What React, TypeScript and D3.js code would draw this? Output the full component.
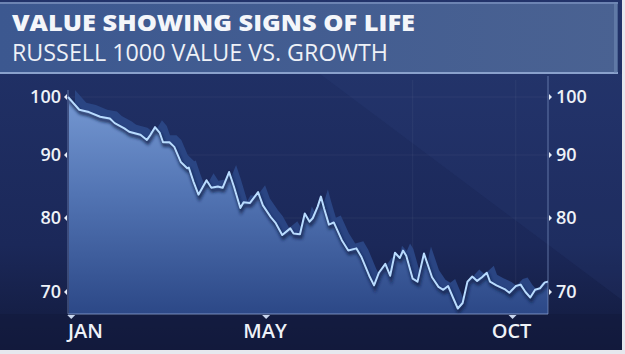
import React, { useEffect, useRef } from 'react';
import * as d3 from 'd3';

// Russell 1000 Value vs. Growth ratio, rebased to 100
const dates = [
  '2019-12-30', '2020-01-06', '2020-01-12', '2020-01-19', '2020-01-25', '2020-01-28',
  '2020-02-03', '2020-02-06', '2020-02-13', '2020-02-17', '2020-02-19', '2020-02-22',
  '2020-02-25', '2020-02-27', '2020-03-02', '2020-03-05', '2020-03-09', '2020-03-13',
  '2020-03-14', '2020-03-17', '2020-03-20', '2020-03-25', '2020-03-28', '2020-04-01',
  '2020-04-04', '2020-04-08', '2020-04-11', '2020-04-15', '2020-04-17', '2020-04-21',
  '2020-04-26', '2020-04-29', '2020-05-04', '2020-05-07', '2020-05-11', '2020-05-16',
  '2020-05-18', '2020-05-22', '2020-05-25', '2020-05-28', '2020-05-30', '2020-06-02',
  '2020-06-04', '2020-06-06', '2020-06-09', '2020-06-12', '2020-06-17', '2020-06-21',
  '2020-06-26', '2020-06-29', '2020-07-04', '2020-07-07', '2020-07-10', '2020-07-14',
  '2020-07-17', '2020-07-20', '2020-07-23', '2020-07-25', '2020-07-27', '2020-07-31',
  '2020-08-03', '2020-08-07', '2020-08-12', '2020-08-16', '2020-08-19', '2020-08-22',
  '2020-08-25', '2020-08-28', '2020-08-31', '2020-09-03', '2020-09-06', '2020-09-09',
  '2020-09-12', '2020-09-15', '2020-09-17', '2020-09-21', '2020-09-26', '2020-09-29',
  '2020-10-03', '2020-10-06', '2020-10-09', '2020-10-12', '2020-10-15', '2020-10-18',
  '2020-10-21', '2020-10-23'
];
const ratio = [
  100, 97.8, 97.4, 96.6, 96.3, 95.5,
  94.6, 94.0, 93.5, 92.6, 93.4, 94.8,
  93.8, 92.2, 92.2, 91.4, 88.9, 87.9,
  88.0, 85.7, 83.7, 86.0, 84.8, 85.0,
  84.8, 87.3, 85.0, 81.6, 82.5, 82.4,
  84.1, 82.0, 80.1, 79.3, 77.7, 78.6,
  77.9, 77.8, 80.7, 79.5, 80.0, 81.8,
  83.4, 81.5, 79.1, 79.4, 77.0, 75.6,
  75.9, 74.8, 72.2, 70.9, 72.6, 73.8,
  72.2, 75.3, 74.6, 75.6, 74.9, 71.8,
  71.4, 75.2, 72.0, 70.7, 70.3, 70.8,
  69.3, 67.9, 68.6, 71.4, 72.1, 71.5,
  72.0, 72.6, 71.4, 70.9, 70.4, 69.9,
  70.8, 71.0, 70.0, 69.3, 70.3, 70.5,
  71.3, 71.4
];
const yTicks = [70, 80, 90, 100];
const monthTicks = ['2020-01-01', '2020-05-01', '2020-10-01'];
const monthLabels = ['JAN', 'MAY', 'OCT'];

const title = 'VALUE SHOWING SIGNS OF LIFE';
const subtitle = 'RUSSELL 1000 VALUE VS. GROWTH';

const App = () => {
  const ref = useRef<SVGSVGElement>(null);

  useEffect(() => {
    const W = 625;
    const H = 354;
    const left = 68;
    const right = 548;
    const bottom = 314;

    const svg = d3.select(ref.current);
    svg.selectAll('*').remove();

    const parse = d3.timeParse('%Y-%m-%d');
    const data = dates.map((d, i) => ({ date: parse(d) as Date, v: ratio[i] }));

    const x = d3
      .scaleTime()
      .domain([parse('2019-12-30') as Date, parse('2020-10-23') as Date])
      .range([left, right]);

    // the studio graphic is tilted, so the spacing widens going down
    const y = d3
      .scaleLinear()
      .domain([67.2, 70, 80, 90, 100])
      .range([bottom, 292, 218, 155, 97]);

    const defs = svg.append('defs');

    const bg = defs.append('linearGradient').attr('id', 'bg').attr('x1', 0).attr('y1', 0).attr('x2', 0).attr('y2', 1);
    bg.append('stop').attr('offset', '0%').attr('stop-color', '#22336a');
    bg.append('stop').attr('offset', '70%').attr('stop-color', '#1b2859');
    bg.append('stop').attr('offset', '100%').attr('stop-color', '#121a3c');

    const banner = defs.append('linearGradient').attr('id', 'banner').attr('x1', 0).attr('y1', 0).attr('x2', 1).attr('y2', 0);
    banner.append('stop').attr('offset', '0%').attr('stop-color', '#3c5890');
    banner.append('stop').attr('offset', '100%').attr('stop-color', '#4a6292');

    const fill = defs.append('linearGradient').attr('id', 'fill').attr('x1', 0).attr('y1', 0).attr('x2', 0).attr('y2', 1);
    fill.append('stop').attr('offset', '0%').attr('stop-color', '#7598d2');
    fill.append('stop').attr('offset', '45%').attr('stop-color', '#5274b3');
    fill.append('stop').attr('offset', '100%').attr('stop-color', '#2c4887');

    defs.append('filter').attr('id', 'blur').append('feGaussianBlur').attr('stdDeviation', 1.6);
    defs
      .append('clipPath')
      .attr('id', 'plot')
      .append('rect')
      .attr('x', left + 1)
      .attr('y', 76)
      .attr('width', right - left - 1)
      .attr('height', bottom - 76);

    // page background and frame
    svg.append('rect').attr('width', W).attr('height', H).attr('fill', '#e6e8ee');
    svg.append('rect').attr('width', 622).attr('height', 350).attr('fill', 'url(#bg)');
    svg
      .append('path')
      .attr('d', 'M320,74 L622,74 L622,300 Z')
      .attr('fill', '#3a5290')
      .attr('opacity', 0.12);
    svg
      .append('rect')
      .attr('x', 0)
      .attr('y', bottom)
      .attr('width', 622)
      .attr('height', 36)
      .attr('fill', '#121a3c')
      .attr('opacity', 0.55);

    // title banner
    svg.append('rect').attr('x', 0).attr('y', 2).attr('width', 618).attr('height', 71).attr('fill', 'url(#banner)');
    svg.append('rect').attr('x', 0).attr('y', 2).attr('width', 618).attr('height', 2).attr('fill', '#6d84b3');
    svg.append('rect').attr('x', 0).attr('y', 72).attr('width', 618).attr('height', 2).attr('fill', '#8aa1cc');
    svg.append('rect').attr('x', 614).attr('y', 2).attr('width', 3).attr('height', 71).attr('fill', '#7088b4').attr('opacity', 0.6);

    svg
      .append('text')
      .attr('x', 12)
      .attr('y', 31)
      .attr('textLength', 403)
      .attr('lengthAdjust', 'spacingAndGlyphs')
      .attr('font-family', 'Open Sans, sans-serif')
      .attr('font-weight', 800)
      .attr('font-size', 23)
      .attr('fill', '#f4f6fa')
      .text(title);
    svg
      .append('text')
      .attr('x', 12)
      .attr('y', 61)
      .attr('textLength', 376)
      .attr('lengthAdjust', 'spacingAndGlyphs')
      .attr('font-family', 'Open Sans, sans-serif')
      .attr('font-weight', 400)
      .attr('font-size', 23)
      .attr('fill', '#eef1f7')
      .text(subtitle);

    // faint grid
    const grid = svg.append('g').attr('stroke', '#ffffff').attr('stroke-opacity', 0.05);
    yTicks.slice(1).forEach((t) => {
      grid.append('line').attr('x1', left).attr('x2', right).attr('y1', y(t)).attr('y2', y(t));
    });
    [parse('2020-07-31') as Date, parse('2020-10-03') as Date].forEach((d) => {
      grid.append('line').attr('x1', x(d)).attr('x2', x(d)).attr('y1', 80).attr('y2', bottom);
    });

    const area = d3
      .area<{ date: Date; v: number }>()
      .x((d) => x(d.date))
      .y0(bottom)
      .y1((d) => y(d.v));
    const line = d3
      .line<{ date: Date; v: number }>()
      .x((d) => x(d.date))
      .y((d) => y(d.v));

    const plot = svg.append('g').attr('clip-path', 'url(#plot)');

    // extruded back face of the area
    plot
      .append('path')
      .datum(data)
      .attr('d', area)
      .attr('transform', 'translate(7,-7)')
      .attr('fill', '#2a4583');

    plot.append('path').datum(data).attr('d', area).attr('fill', 'url(#fill)');

    // drop shadow under the line
    plot
      .append('path')
      .datum(data)
      .attr('d', line)
      .attr('transform', 'translate(1,3)')
      .attr('fill', 'none')
      .attr('stroke', '#14204a')
      .attr('stroke-width', 3.5)
      .attr('stroke-opacity', 0.8)
      .attr('filter', 'url(#blur)');

    svg
      .append('path')
      .datum(data)
      .attr('d', line)
      .attr('fill', 'none')
      .attr('stroke', '#b9dcff')
      .attr('stroke-width', 2)
      .attr('stroke-linejoin', 'round');

    // axes frame
    const axisColor = '#8ea4d2';
    svg.append('line').attr('x1', left).attr('x2', left).attr('y1', 90).attr('y2', bottom).attr('stroke', axisColor).attr('stroke-opacity', 0.6);
    svg.append('line').attr('x1', left).attr('x2', right).attr('y1', bottom).attr('y2', bottom).attr('stroke', axisColor).attr('stroke-opacity', 0.8);
    svg.append('line').attr('x1', right).attr('x2', right).attr('y1', 76).attr('y2', bottom).attr('stroke', axisColor).attr('stroke-opacity', 0.6);

    const labelFont = 'Open Sans, sans-serif';

    // left and right value labels
    yTicks.forEach((t) => {
      const ty = y(t);
      svg
        .append('path')
        .attr('d', `M${left - 1},${ty - 3} L${left - 4},${ty} L${left - 1},${ty + 3} Z`)
        .attr('fill', '#e8eef8');
      svg
        .append('text')
        .attr('x', left - 7)
        .attr('y', ty)
        .attr('dy', '0.35em')
        .attr('text-anchor', 'end')
        .attr('font-family', labelFont)
        .attr('font-weight', 600)
        .attr('font-size', 18)
        .attr('fill', '#eef2f8')
        .text(t);
      svg
        .append('path')
        .attr('d', `M${right + 1},${ty - 3} L${right + 4},${ty} L${right + 1},${ty + 3} Z`)
        .attr('fill', '#e8eef8');
      svg
        .append('text')
        .attr('x', right + 8)
        .attr('y', ty)
        .attr('dy', '0.35em')
        .attr('font-family', labelFont)
        .attr('font-weight', 600)
        .attr('font-size', 18)
        .attr('fill', '#eef2f8')
        .text(t);
    });

    // month ticks
    monthTicks.forEach((m, i) => {
      const tx = x(parse(m) as Date);
      svg
        .append('path')
        .attr('d', `M${tx - 4},${bottom + 1} L${tx + 4},${bottom + 1} L${tx},${bottom + 5} Z`)
        .attr('fill', '#c9d6ee');
      svg
        .append('text')
        .attr('x', i === 0 ? left : tx - 1)
        .attr('y', 338)
        .attr('text-anchor', i === 0 ? 'start' : 'middle')
        .attr('font-family', labelFont)
        .attr('font-weight', 600)
        .attr('font-size', 20)
        .attr('fill', '#eef2f8')
        .text(monthLabels[i]);
    });
  }, []);

  return (
    <div style={{ position: 'fixed', left: 0, top: 0 }}>
      <svg ref={ref} width={625} height={354} style={{ display: 'block' }} />
    </div>
  );
};

export default App;
